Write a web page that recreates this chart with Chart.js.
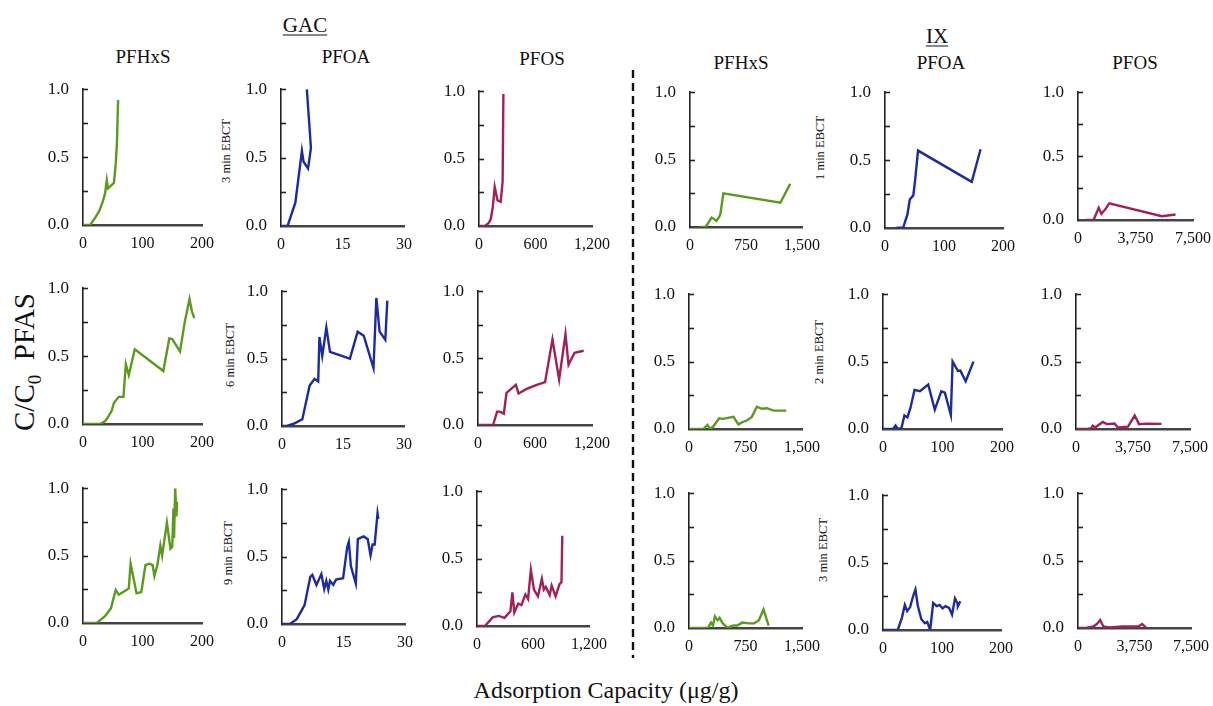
<!DOCTYPE html>
<html>
<head>
<meta charset="utf-8">
<script src="https://cdn.jsdelivr.net/npm/chart.js@4.4.1/dist/chart.umd.min.js"></script>
<style>
  body { margin: 0; background: #fff; }
  #wrap { position: relative; width: 1213px; height: 706px; overflow: hidden; font-family: "Liberation Serif", "Times New Roman", serif; color: #111; }
  #wrap canvas { position: absolute; }
  .lbl { position: absolute; transform: translate(-50%, -50%); white-space: nowrap; }
  .rot { position: absolute; transform: translate(-50%, -50%) rotate(-90deg); white-space: nowrap; }
  .head { text-decoration: underline; text-underline-offset: 3px; text-decoration-thickness: 1px; font-size: 21px; }
  .sub { font-size: 19px; }
  .ebct { font-size: 12.5px; }
</style>
</head>
<body>
<div id="wrap">
  <svg width="1213" height="706" style="position:absolute;left:0;top:0">
    <line x1="633" y1="70" x2="633" y2="658" stroke="#111" stroke-width="2.4" stroke-dasharray="8,5"/>
  </svg>
  <div class="lbl head" style="left:305px;top:25px">GAC</div>
  <div class="lbl head" style="left:937px;top:36px">IX</div>
  <div class="lbl sub" style="left:143px;top:57px">PFHxS</div>
  <div class="lbl sub" style="left:346px;top:57px">PFOA</div>
  <div class="lbl sub" style="left:542px;top:59px">PFOS</div>
  <div class="lbl sub" style="left:741px;top:63px">PFHxS</div>
  <div class="lbl sub" style="left:941px;top:63px">PFOA</div>
  <div class="lbl sub" style="left:1135px;top:63px">PFOS</div>
  <div class="rot ebct" style="left:226px;top:151px">3 min EBCT</div>
  <div class="rot ebct" style="left:230px;top:355px">6 min EBCT</div>
  <div class="rot ebct" style="left:228px;top:553px">9 min EBCT</div>
  <div class="rot ebct" style="left:820px;top:148px">1 min EBCT</div>
  <div class="rot ebct" style="left:819px;top:352px">2 min EBCT</div>
  <div class="rot ebct" style="left:823px;top:550px">3 min EBCT</div>
  <div class="rot" style="left:24px;top:362px;font-size:29px">C/C<span style="font-size:19px;position:relative;top:7px">0</span>&nbsp;&nbsp;PFAS</div>
  <div class="lbl" style="left:606px;top:690px;font-size:24px">Adsorption Capacity (μg/g)</div>
</div>
<script>
// x-axis setup per compound column (GAC: PFHxS, PFOA, PFOS, IX: PFHxS, PFOA, PFOS)
const xMaxes = [200, 30, 1200, 1500, 200, 7500];
const xSteps = [100, 15, 600, 750, 100, 3750];
const yTicks = [0, 0.5, 1.0];

// GAC, 3 min EBCT
const gacPfhxs3X = [0, 12, 20, 27, 33, 37, 40, 42, 47, 52, 55, 57, 59];
const gacPfhxs3Y = [0, 0, 0.05, 0.1, 0.17, 0.23, 0.33, 0.27, 0.29, 0.31, 0.45, 0.6, 0.92];
const gacPfoa3X = [0, 1.6, 3.5, 5.1, 5.5, 6.6, 7.3, 6.3];
const gacPfoa3Y = [0, 0, 0.17, 0.55, 0.47, 0.42, 0.57, 1.0];
const gacPfos3X = [0, 63, 100, 125, 146, 167, 197, 230, 251, 259];
const gacPfos3Y = [0, 0, 0.02, 0.05, 0.14, 0.29, 0.19, 0.18, 0.33, 0.98];

// GAC, 6 min EBCT
const gacPfhxs6X = [0, 28, 37, 42, 48, 52, 60, 68, 72, 77, 87, 135, 145, 150, 163, 171, 179, 183, 187];
const gacPfhxs6Y = [0, 0, 0.02, 0.05, 0.095, 0.155, 0.2, 0.2, 0.44, 0.36, 0.55, 0.39, 0.63, 0.625, 0.535, 0.75, 0.92, 0.83, 0.78];
const gacPfoa6X = [0, 1.2, 3.1, 5, 6.8, 8, 8.9, 9.2, 9.9, 10.9, 11.8, 16.7, 18.6, 20.1, 22.5, 23.2, 24, 25.4, 25.9];
const gacPfoa6Y = [0, 0, 0.02, 0.05, 0.3, 0.35, 0.33, 0.66, 0.52, 0.73, 0.55, 0.5, 0.7, 0.67, 0.43, 0.95, 0.7, 0.64, 0.93];
const gacPfos6X = [0, 159, 201, 230, 272, 300, 399, 427, 512, 618, 706, 784, 854, 921, 953, 1016, 1112];
const gacPfos6Y = [0, 0, 0.1, 0.1, 0.085, 0.24, 0.3, 0.235, 0.27, 0.3, 0.32, 0.64, 0.34, 0.68, 0.45, 0.54, 0.555];

// GAC, 9 min EBCT
const gacPfhxs9X = [0, 23, 37, 47, 55, 60, 73, 77, 80, 90, 98, 105, 112, 117, 120, 125, 130, 133, 141, 147, 150, 152, 153, 155, 157, 158];
const gacPfhxs9Y = [0, 0, 0.05, 0.11, 0.245, 0.21, 0.245, 0.257, 0.44, 0.22, 0.23, 0.43, 0.44, 0.43, 0.35, 0.43, 0.575, 0.5, 0.745, 0.55, 0.565, 0.85, 0.63, 1.0, 0.79, 0.9];
const gacPfoa9X = [0, 1.9, 3.6, 5.5, 6.9, 7.4, 8.4, 9.6, 10.3, 10.8, 11.3, 11.7, 12.5, 13.2, 14.9, 15.9, 16.3, 16.8, 18, 18.5, 19.9, 20.9, 21.6, 22.1, 22.6, 23.3, 23.5];
const gacPfoa9Y = [0, 0, 0.036, 0.14, 0.35, 0.365, 0.29, 0.37, 0.26, 0.32, 0.256, 0.32, 0.29, 0.33, 0.34, 0.57, 0.61, 0.43, 0.3, 0.63, 0.65, 0.63, 0.51, 0.59, 0.59, 0.82, 0.78];
const gacPfos9X = [0, 84, 168, 232, 295, 358, 379, 400, 442, 476, 518, 547, 577, 610, 653, 695, 716, 737, 779, 800, 842, 884, 905, 914];
const gacPfos9Y = [0, 0, 0.064, 0.075, 0.06, 0.11, 0.25, 0.1, 0.166, 0.155, 0.234, 0.2, 0.416, 0.27, 0.22, 0.35, 0.27, 0.29, 0.23, 0.3, 0.22, 0.31, 0.325, 0.67];

// IX, 1 min EBCT
const ixPfhxs1X = [140, 210, 290, 321, 353, 384, 405, 447, 1210, 1342];
const ixPfhxs1Y = [0, 0, 0.07, 0.06, 0.045, 0.07, 0.09, 0.25, 0.18, 0.32];
const ixPfoa1X = [18, 31, 38, 42, 48, 51, 56, 147, 162];
const ixPfoa1Y = [0, 0.005, 0.1, 0.21, 0.24, 0.35, 0.57, 0.34, 0.58];
const ixPfos1X = [510, 1020, 1350, 1525, 1780, 2035, 5470, 6360];
const ixPfos1Y = [0, 0, 0.095, 0.048, 0.083, 0.13, 0.03, 0.043];

// IX, 2 min EBCT
const ixPfhxs2X = [0, 191, 244, 280, 324, 400, 448, 590, 656, 714, 768, 834, 901, 968, 1034, 1123, 1292];
const ixPfhxs2Y = [0, 0, 0.03, 0, 0.02, 0.08, 0.075, 0.09, 0.034, 0.052, 0.063, 0.09, 0.165, 0.15, 0.154, 0.136, 0.136];
const ixPfoa2X = [0, 17, 21, 25, 31, 36, 41, 46, 53, 62, 76, 87, 98, 104, 114, 117, 126, 130, 139, 152];
const ixPfoa2Y = [0, 0, 0.025, 0, 0.007, 0.1, 0.086, 0.154, 0.29, 0.28, 0.33, 0.143, 0.28, 0.27, 0.104, 0.5, 0.43, 0.433, 0.354, 0.5];
const ixPfos2X = [0, 772, 993, 1103, 1257, 1765, 2030, 2537, 2757, 3420, 3860, 4147, 4632, 5625];
const ixPfos2Y = [0, 0, 0.007, 0.025, 0.011, 0.052, 0.036, 0.04, 0.011, 0.018, 0.1, 0.036, 0.04, 0.038];

// IX, 3 min EBCT
const ixPfhxs3X = [0, 250, 292, 318, 344, 380, 406, 448, 510, 589, 641, 708, 797, 865, 927, 990, 1031, 1057];
const ixPfhxs3Y = [0, 0, 0.04, 0.018, 0.086, 0.057, 0.075, 0.034, 0.002, 0.018, 0.018, 0.04, 0.034, 0.034, 0.057, 0.138, 0.063, 0.018];
const ixPfoa3X = [0, 25, 32, 37, 41, 46, 51, 55, 59, 65, 71, 75, 80, 85, 91, 96, 101, 106, 112, 117, 122, 126, 127, 131];
const ixPfoa3Y = [0, 0, 0.09, 0.186, 0.14, 0.17, 0.25, 0.3, 0.18, 0.08, 0.05, 0.06, 0, 0.2, 0.177, 0.186, 0.16, 0.177, 0.164, 0.114, 0.234, 0.2, 0.177, 0.214];
const ixPfos3X = [0, 520, 1030, 1290, 1470, 1680, 2070, 2970, 4000, 4260, 4440, 4520];
const ixPfos3Y = [0, 0, 0.011, 0.034, 0.06, 0.011, 0.005, 0.011, 0.011, 0.03, 0.011, 0];

const colors = ["#5a9a1c", "#1d2b9c", "#a1205a"];

// plot boxes in page pixels: [x of 0, x of max, y of 1.0, y of 0.0]
const boxes = [
  [83, 202, 77, 225], [281, 404, 77, 226], [479, 592, 79, 226],
  [690, 802, 80, 227], [885, 1003, 80, 228], [1078, 1193, 80, 220],
  [83, 202, 276, 424], [282, 404, 279, 426], [478, 592, 279, 425],
  [689, 802, 282, 429], [883, 1002, 282, 429], [1076, 1190, 282, 429],
  [83, 202, 476, 623], [282, 405, 477, 624], [477, 589, 479, 626],
  [689, 802, 481, 628], [883, 1001, 483, 630], [1078, 1191, 481, 628]
];

const series = [
  [gacPfhxs3X, gacPfhxs3Y], [gacPfoa3X, gacPfoa3Y], [gacPfos3X, gacPfos3Y],
  [ixPfhxs1X, ixPfhxs1Y], [ixPfoa1X, ixPfoa1Y], [ixPfos1X, ixPfos1Y],
  [gacPfhxs6X, gacPfhxs6Y], [gacPfoa6X, gacPfoa6Y], [gacPfos6X, gacPfos6Y],
  [ixPfhxs2X, ixPfhxs2Y], [ixPfoa2X, ixPfoa2Y], [ixPfos2X, ixPfos2Y],
  [gacPfhxs9X, gacPfhxs9Y], [gacPfoa9X, gacPfoa9Y], [gacPfos9X, gacPfos9Y],
  [ixPfhxs3X, ixPfhxs3Y], [ixPfoa3X, ixPfoa3Y], [ixPfos3X, ixPfos3Y]
];

Chart.defaults.font.family = '"Liberation Serif", "Times New Roman", serif';
Chart.defaults.color = "#111";

const YW = 46, PT = 12, PR = 30, XH = 34;

// small tick marks pointing into the plot, like the original
const innerTicks = {
  id: "innerTicks",
  afterDraw(chart) {
    const y = chart.scales.y;
    const ctx = chart.ctx;
    const left = chart.chartArea.left;
    ctx.save();
    ctx.strokeStyle = "#222";
    ctx.lineWidth = 1.6;
    [0.25, 0.5, 0.75, 1].forEach(v => {
      const py = Math.round(y.getPixelForValue(v)) + 0.5;
      ctx.beginPath();
      ctx.moveTo(left - 1, py);
      ctx.lineTo(left + 5, py);
      ctx.stroke();
    });
    ctx.restore();
  }
};

const wrap = document.getElementById("wrap");

series.forEach((s, i) => {
  const [x0, x1, yTop, yBot] = boxes[i];
  const col = i % 6;
  const canvas = document.createElement("canvas");
  const w = YW + (x1 - x0) + PR;
  const h = PT + (yBot - yTop) + XH;
  canvas.width = w;
  canvas.height = h;
  canvas.style.left = (x0 - YW) + "px";
  canvas.style.top = (yTop - PT) + "px";
  canvas.style.width = w + "px";
  canvas.style.height = h + "px";
  wrap.appendChild(canvas);

  const points = s[0].map((x, k) => ({ x: x, y: s[1][k] }));

  new Chart(canvas, {
    type: "scatter",
    data: {
      datasets: [{
        data: points,
        showLine: true,
        borderColor: colors[col % 3],
        borderWidth: 2.4,
        pointRadius: 0,
        tension: 0
      }]
    },
    options: {
      responsive: false,
      animation: false,
      devicePixelRatio: 1,
      layout: { padding: { top: PT, right: PR, left: 0, bottom: 0 } },
      plugins: { legend: { display: false }, tooltip: { enabled: false } },
      scales: {
        x: {
          type: "linear",
          min: 0,
          max: xMaxes[col],
          afterFit: sc => { sc.height = XH; },
          grid: { display: false, drawTicks: false },
          border: { display: true, color: "#444", width: 2.5 },
          ticks: {
            stepSize: xSteps[col],
            maxRotation: 0,
            autoSkip: false,
            padding: 9,
            font: { size: 16 },
            callback: v => v.toLocaleString("en-US")
          }
        },
        y: {
          min: 0,
          max: 1,
          afterFit: sc => { sc.width = YW; },
          grid: { display: false, drawTicks: false },
          border: { display: true, color: "#222", width: 1.6 },
          ticks: {
            stepSize: 0.25,
            autoSkip: false,
            padding: 14,
            font: { size: 17 },
            callback: v => (yTicks.includes(v) ? v.toFixed(1) : "")
          }
        }
      }
    },
    plugins: [innerTicks]
  });
});
</script>
</body>
</html>
